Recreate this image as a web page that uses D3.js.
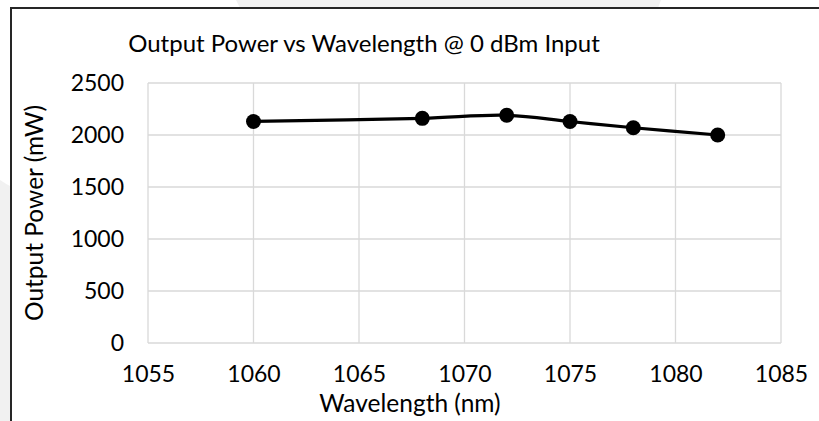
<!DOCTYPE html>
<html>
<head>
<meta charset="utf-8">
<script src="https://cdn.jsdelivr.net/npm/d3@7"></script>
<style>
  html, body { margin: 0; padding: 0; background: #fff; }
  text { font-family: Lato, "Open Sans", sans-serif; fill: #000; }
</style>
</head>
<body>
<div id="chart"></div>
<script>
// data
const wavelengths = [1060, 1068, 1072, 1075, 1078, 1082];
const outputPower = [2130, 2160, 2190, 2130, 2070, 2000];
const xTicks = [1055, 1060, 1065, 1070, 1075, 1080, 1085];
const yTicks = [0, 500, 1000, 1500, 2000, 2500];

document.addEventListener('DOMContentLoaded', function () {
    const w = 819,
        h = 421;
    const plot = { left: 148, right: 781, top: 83, bottom: 343 };

    const svg = d3.select('#chart')
        .append('svg')
        .attr('width', w)
        .attr('height', h);

    // light grey background shapes behind the chart frame
    svg.append('polygon')
        .attr('points', '236,0 661,0 658,8 240,8')
        .attr('fill', '#f1f1f1');
    svg.append('path')
        .attr('d', 'M0,180 Q6,184 10,186 L10,421 L0,421 Z')
        .attr('fill', '#f1f1f1');

    // chart frame (runs off the right and bottom)
    svg.append('path')
        .attr('d', 'M11,421 L11,8 L819,8')
        .attr('fill', 'none')
        .attr('stroke', '#262626')
        .attr('stroke-width', 2);

    const xScale = d3.scaleLinear()
        .domain([1055, 1085])
        .range([plot.left, plot.right]);

    const yScale = d3.scaleLinear()
        .domain([0, 2500])
        .range([plot.bottom, plot.top]);

    // gridlines
    svg.append('g')
        .selectAll('line')
        .data(xTicks)
        .enter()
        .append('line')
        .attr('x1', d => xScale(d))
        .attr('x2', d => xScale(d))
        .attr('y1', plot.top)
        .attr('y2', plot.bottom)
        .attr('stroke', '#d9d9d9')
        .attr('stroke-width', 1.3);

    svg.append('g')
        .selectAll('line')
        .data(yTicks)
        .enter()
        .append('line')
        .attr('x1', plot.left)
        .attr('x2', plot.right)
        .attr('y1', d => yScale(d))
        .attr('y2', d => yScale(d))
        .attr('stroke', '#d9d9d9')
        .attr('stroke-width', 1.3);

    // axes (labels only, Excel style)
    const xAxis = svg.append('g')
        .attr('transform', `translate(0,${plot.bottom})`)
        .call(d3.axisBottom(xScale).tickValues(xTicks).tickSize(0).tickPadding(0).tickFormat(d3.format('d')));
    xAxis.select('.domain').remove();
    xAxis.selectAll('text')
        .attr('dy', null)
        .attr('y', 39)
        .style('font-size', '23px')
        .style('font-family', 'Lato, sans-serif');

    const yAxis = svg.append('g')
        .attr('transform', `translate(${plot.left},0)`)
        .call(d3.axisLeft(yScale).tickValues(yTicks).tickSize(0).tickPadding(24).tickFormat(d3.format('d')));
    yAxis.select('.domain').remove();
    yAxis.selectAll('text')
        .style('font-size', '23px')
        .style('font-family', 'Lato, sans-serif');

    // series line (smoothed) and markers
    const pts = wavelengths.map((d, i) => [d, outputPower[i]]);
    const line = d3.line()
        .x(d => xScale(d[0]))
        .y(d => yScale(d[1]))
        .curve(d3.curveCatmullRom.alpha(0.5));

    svg.append('path')
        .datum(pts)
        .attr('d', line)
        .attr('fill', 'none')
        .attr('stroke', '#000')
        .attr('stroke-width', 3.2)
        .attr('stroke-linejoin', 'round');

    svg.append('g')
        .selectAll('circle')
        .data(pts)
        .enter()
        .append('circle')
        .attr('cx', d => xScale(d[0]))
        .attr('cy', d => yScale(d[1]))
        .attr('r', 7.5)
        .attr('fill', '#000');

    // titles
    svg.append('text')
        .attr('x', 364)
        .attr('y', 52)
        .attr('text-anchor', 'middle')
        .style('font-size', '24px')
        .text('Output Power vs Wavelength @ 0 dBm Input');

    svg.append('text')
        .attr('x', 410)
        .attr('y', 412)
        .attr('text-anchor', 'middle')
        .style('font-size', '24.5px')
        .text('Wavelength (nm)');

    svg.append('text')
        .attr('transform', `translate(43,${(plot.top + plot.bottom) / 2}) rotate(-90)`)
        .attr('text-anchor', 'middle')
        .style('font-size', '24.5px')
        .text('Output Power (mW)');
});
</script>
</body>
</html>
